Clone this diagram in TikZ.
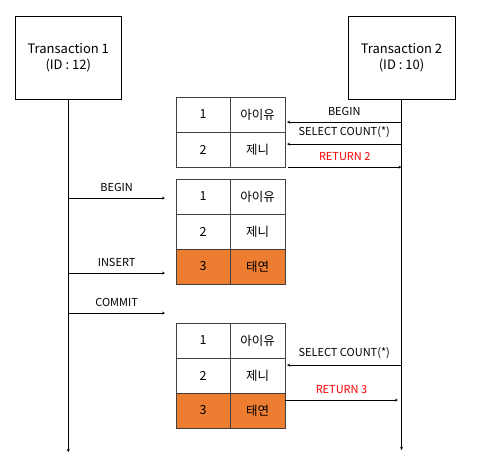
\documentclass[tikz,border=0pt]{standalone}
\usepackage{fontspec}
\setmainfont{Noto Sans CJK KR}
\usetikzlibrary{positioning}
\definecolor{cellorange}{HTML}{ED7D31}
\tikzstyle{txbox} = [rectangle, draw=black, minimum width=106pt, minimum height=83pt, align=center, font=\fontsize{13}{16}\selectfont]
\tikzstyle{cell} = [rectangle, draw=black!75, minimum width=54.5pt, minimum height=35pt, inner sep=0pt, outer sep=0pt, font=\fontsize{12.5}{14}\selectfont]
\tikzstyle{newcell} = [cell, fill=cellorange]
\tikzstyle{arrow} = [->,>=stealth]
\tikzstyle{msg} = [font=\fontsize{11}{13}\selectfont, anchor=south, inner sep=4pt, yshift=2pt]
\tikzstyle{reply} = [msg, text=red]

\begin{document}
\begin{tikzpicture}[x=1pt, y=-1pt]
		\useasboundingbox (0,0) rectangle (482,456);
		\node (tx1) [txbox] at (68.25,57.5) {Transaction 1\\(ID : 12)};
		\node (tx2) [txbox, minimum width=107pt] at (401.5,57.5) {Transaction 2\\(ID : 10)};

		% snapshot before insert
		\node (s1n1) [cell] at (203,114.5) {1};
		\node (s1v1) [cell, right=0pt of s1n1] {아이유};
		\node (s1n2) [cell, below=0pt of s1n1] {2};
		\node (s1v2) [cell, right=0pt of s1n2] {제니};

		% transaction 1 table
		\node (s2n1) [cell] at (203,196.5) {1};
		\node (s2v1) [cell, right=0pt of s2n1] {아이유};
		\node (s2n2) [cell, below=0pt of s2n1] {2};
		\node (s2v2) [cell, right=0pt of s2n2] {제니};
		\node (s2n3) [newcell, below=0pt of s2n2] {3};
		\node (s2v3) [newcell, right=0pt of s2n3] {태연};

		% snapshot after commit
		\node (s3n1) [cell] at (203,340.5) {1};
		\node (s3v1) [cell, right=0pt of s3n1] {아이유};
		\node (s3n2) [cell, below=0pt of s3n1] {2};
		\node (s3v2) [cell, right=0pt of s3n2] {제니};
		\node (s3n3) [newcell, below=0pt of s3n2] {3};
		\node (s3v3) [newcell, right=0pt of s3n3] {태연};

		% lifelines
		\coordinate (end1) at (68.25,452);
		\coordinate (end2) at (401.5,450);
		\draw [arrow] (tx1) -- (end1);
		\draw [arrow] (tx2) -- (end2);

		% transaction 2 messages
		\coordinate (t2begin) at (401.5,122);
		\coordinate (t2sel1) at (401.5,144);
		\coordinate (t2ret1) at (401.5,167);
		\coordinate (t2sel2) at (401.5,365);
		\coordinate (t2ret2) at (398,400);
		\coordinate (s1begin) at (287,122);
		\coordinate (s1sel) at (287,144);
		\coordinate (s1ret) at (288,167);
		\coordinate (s3sel) at (287,365);
		\coordinate (s3ret) at (285,400);
		\draw [arrow] (t2begin) -- node[msg] {BEGIN} (s1begin);
		\draw [arrow] (t2sel1) -- node[msg] {SELECT COUNT(*)} (s1sel);
		\draw [arrow] (s1ret) -- node[reply] {RETURN 2} (t2ret1);
		\draw [arrow] (t2sel2) -- node[msg] {SELECT COUNT(*)} (s3sel);
		\draw [arrow] (s3ret) -- node[reply] {RETURN 3} (t2ret2);

		% transaction 1 messages
		\coordinate (t1begin) at (68.25,198);
		\coordinate (t1insert) at (68.25,273);
		\coordinate (t1commit) at (68.25,313);
		\coordinate (s2begin) at (165,198);
		\coordinate (s2insert) at (165,273);
		\coordinate (s2commit) at (165,313);
		\draw [arrow] (t1begin) -- node[msg] {BEGIN} (s2begin);
		\draw [arrow] (t1insert) -- node[msg] {INSERT} (s2insert);
		\draw [arrow] (t1commit) -- node[msg] {COMMIT} (s2commit);
	\end{tikzpicture}
\end{document}
